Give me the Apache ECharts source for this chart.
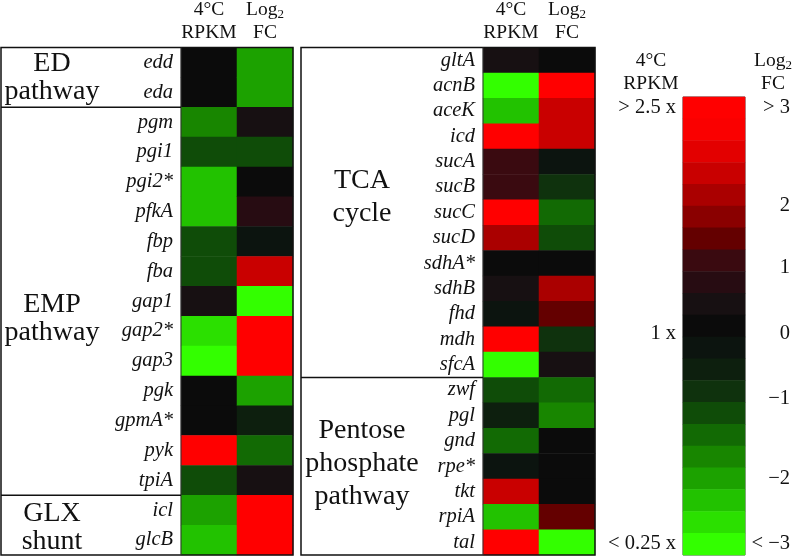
<!DOCTYPE html>
<html><head><meta charset="utf-8">
<script src="https://cdn.jsdelivr.net/npm/echarts@6/dist/echarts.min.js"></script>
<style>html,body{margin:0;padding:0;background:#fff}#c{width:793px;height:559px}</style>
</head><body><div id="c"></div>
<script>
// ---------------- data ----------------
const columns = ['4°C RPKM', 'Log2 FC'];

const leftGenes = ['edd','eda','pgm','pgi1','pgi2*','pfkA','fbp','fba','gap1','gap2*','gap3','pgk','gpmA*','pyk','tpiA','icl','glcB'];
const leftRpkm  = [0, 0, -1.8, -1.2, -2.4, -2.4, -1.2, -1.2, 0.3, -2.7, -3, 0, 0, 3, -1.2, -2.1, -2.4];
const leftFc    = [-2.1, -2.1, 0.3, -1.2, 0, 0.6, -0.3, 2.1, -3, 3, 3, -2.1, -0.6, -1.5, 0.3, 3, 3];
const leftGroupNames  = ['ED\npathway', 'EMP\npathway', 'GLX\nshunt'];
const leftGroupSizes  = [2, 13, 2];

const rightGenes = ['gltA','acnB','aceK','icd','sucA','sucB','sucC','sucD','sdhA*','sdhB','fhd','mdh','sfcA','zwf','pgl','gnd','rpe*','tkt','rpiA','tal'];
const rightRpkm  = [0.3, -3, -2.4, 3, 0.9, 0.9, 3, 1.8, 0, 0.3, -0.3, 3, -3, -1.2, -0.6, -1.5, -0.3, 2.1, -2.4, 3];
const rightFc    = [0, 3, 2.1, 2.1, -0.3, -0.9, -1.5, -1.2, 0, 1.8, 1.2, -0.9, 0.3, -1.5, -1.8, 0, 0, 0, 1.2, -3];
const rightGroupNames = ['TCA\ncycle', 'Pentose\nphosphate\npathway'];
const rightGroupSizes = [13, 7];

// colour-scale legend (top to bottom)
const legendLevels = [3, 2.7, 2.4, 2.1, 1.8, 1.5, 1.2, 0.9, 0.6, 0.3, 0, -0.3, -0.6, -0.9, -1.2, -1.5, -1.8, -2.1, -2.4, -2.7, -3];
const legendRpkmTickPos  = [3, -0.1, -3];
const legendRpkmTickText = ['> 2.5 x', '1 x', '< 0.25 x'];
const legendFcTickPos  = [3, 1.65, 0.8, -0.1, -1, -2.1, -3];
const legendFcTickText = ['> 3', '2', '1', '0', '\u22121', '\u22122', '< \u22123'];

// ---------------- style ----------------
const FONT = 'Liberation Serif';
const INK = '#111';
// colours from -3 (bottom) to +3 (top)
const palette = ['#33ff00','#2be000','#22c200','#1ca200','#188600','#126a04','#0f4c08','#0f320d','#0d1f0e','#0c140f','#0b0b0b','#171012','#270c12','#3a0a10','#640000','#8a0000','#aa0000','#c90000','#e30000','#fa0000','#ff0000'];
const pieces = palette.map((c, i) => ({ gte: -3.15 + 0.3 * i - 1e-6, lt: -3.15 + 0.3 * (i + 1) - 1e-6, color: c }));

const headerRich = {
  n: { fontSize: 19.5, fontFamily: FONT, color: INK, lineHeight: 23 },
  s: { fontSize: 13, fontFamily: FONT, color: INK, lineHeight: 10, verticalAlign: 'bottom' }
};
function headerFmt(v) {
  return v === 'Log2 FC' ? '{n|Log}{s|2}\n{n|FC}' : '{n|4°C}\n{n|RPKM}';
}

function cells(rpkm, fc) {
  const d = [];
  rpkm.forEach((v, i) => d.push([0, i, v]));
  fc.forEach((v, i) => d.push([1, i, v]));
  return d;
}

function geneAxis(grid, genes) {
  return {
    type: 'category', gridIndex: grid, data: genes, inverse: true,
    axisLine: { show: false }, axisTick: { show: false }, splitLine: { show: false },
    axisLabel: { interval: 0, hideOverlap: false, margin: 8, fontFamily: FONT, fontStyle: 'italic', fontSize: 20.5, color: INK }
  };
}
function colAxis(grid) {
  return {
    type: 'category', gridIndex: grid, data: columns, position: 'top',
    axisLine: { show: false }, axisTick: { show: false }, splitLine: { show: false },
    axisLabel: { interval: 0, hideOverlap: false, margin: 3, formatter: headerFmt, rich: headerRich }
  };
}

const option = {
  animation: false,
  backgroundColor: '#fff',
  grid: [
    { left: 181, top: 41, width: 112, height: 514 },
    { left: 483, top: 41, width: 112, height: 514 },
    { left: 683, top: 97, width: 63, height: 458, show: true, borderColor: '#444', borderWidth: 1 }
  ],
  xAxis: [
    colAxis(0),
    colAxis(1),
    { type: 'category', gridIndex: 2, data: [''], show: false }
  ],
  yAxis: [
    geneAxis(0, leftGenes),
    geneAxis(1, rightGenes),
    { type: 'category', gridIndex: 2, data: legendLevels.map(String), inverse: true, show: false },
    {
      type: 'value', gridIndex: 2, position: 'left', min: -3.15, max: 3.15,
      axisLine: { show: false }, axisTick: { show: false }, splitLine: { show: false },
      name: '{n|4°C}\n{n|RPKM}', nameLocation: 'end', nameGap: 2,
      nameTextStyle: { align: 'center', padding: [0, 64, 0, 0], rich: headerRich },
      axisLabel: {
        customValues: legendRpkmTickPos, margin: 7, fontFamily: FONT, fontSize: 20.5, color: INK,
        formatter: v => legendRpkmTickText[legendRpkmTickPos.indexOf(v)]
      }
    },
    {
      type: 'value', gridIndex: 2, position: 'right', min: -3.15, max: 3.15,
      axisLine: { show: false }, axisTick: { show: false }, splitLine: { show: false },
      name: '{n|Log}{s|2}\n{n|FC}', nameLocation: 'end', nameGap: 2,
      nameTextStyle: { align: 'center', padding: [0, 0, 0, 56], rich: headerRich },
      axisLabel: {
        customValues: legendFcTickPos, margin: 45, align: 'right', fontFamily: FONT, fontSize: 20.5, color: INK,
        formatter: v => legendFcTickText[legendFcTickPos.indexOf(v)]
      }
    }
  ],
  visualMap: {
    type: 'piecewise', show: false, dimension: 2, seriesIndex: [0, 1, 2], pieces: pieces
  },
  series: [
    { type: 'heatmap', xAxisIndex: 0, yAxisIndex: 0, data: cells(leftRpkm, leftFc), emphasis: { disabled: true }, progressive: 0 },
    { type: 'heatmap', xAxisIndex: 1, yAxisIndex: 1, data: cells(rightRpkm, rightFc), emphasis: { disabled: true }, progressive: 0 },
    { type: 'heatmap', xAxisIndex: 2, yAxisIndex: 2, data: legendLevels.map((v, i) => [0, i, v]), emphasis: { disabled: true }, progressive: 0 }
  ]
};

const chart = echarts.init(document.getElementById('c'));
chart.setOption(option);

// ------------- frames, group separators and pathway names -------------
const panels = [
  { axis: 0, boxLeft: 1, textDx: 51, lineH: 28, dy: [0, 17, 2], names: leftGroupNames, sizes: leftGroupSizes },
  { axis: 1, boxLeft: 301, textDx: 61, lineH: 33, dy: [-15, -3], names: rightGroupNames, sizes: rightGroupSizes }
];
const g = [];
panels.forEach(p => {
  const y0 = chart.convertToPixel({ yAxisIndex: p.axis }, 0);
  const y1 = chart.convertToPixel({ yAxisIndex: p.axis }, 1);
  const step = y1 - y0;
  const top = y0 - step / 2;
  const n = p.sizes.reduce((a, b) => a + b, 0);
  const bottom = top + n * step;
  const x0 = chart.convertToPixel({ xAxisIndex: p.axis }, 0);
  const x1 = chart.convertToPixel({ xAxisIndex: p.axis }, 1);
  const cs = x1 - x0;
  const cellLeft = x0 - cs / 2, cellRight = x1 + cs / 2;
  g.push({ type: 'rect', z: 100, shape: { x: p.boxLeft, y: top, width: cellRight - p.boxLeft, height: bottom - top },
           style: { fill: 'none', stroke: INK, lineWidth: 1.5 } });
  g.push({ type: 'line', z: 100, shape: { x1: cellLeft, y1: top, x2: cellLeft, y2: bottom },
           style: { stroke: '#333', lineWidth: 1 } });
  let cum = 0;
  p.sizes.forEach((s, k) => {
    const mid = top + (cum + s / 2) * step;
    g.push({ type: 'text', z: 100, style: { text: p.names[k], x: p.boxLeft + p.textDx, y: mid + p.dy[k],
      textAlign: 'center', textVerticalAlign: 'middle', font: '28px "Liberation Serif"', lineHeight: p.lineH, fill: INK } });
    cum += s;
    if (k < p.sizes.length - 1) {
      const yy = top + cum * step;
      g.push({ type: 'line', z: 100, shape: { x1: p.boxLeft, y1: yy, x2: cellLeft, y2: yy }, style: { stroke: INK, lineWidth: 1.5 } });
    }
  });
});
chart.setOption({ graphic: g });
</script>
</body></html>
